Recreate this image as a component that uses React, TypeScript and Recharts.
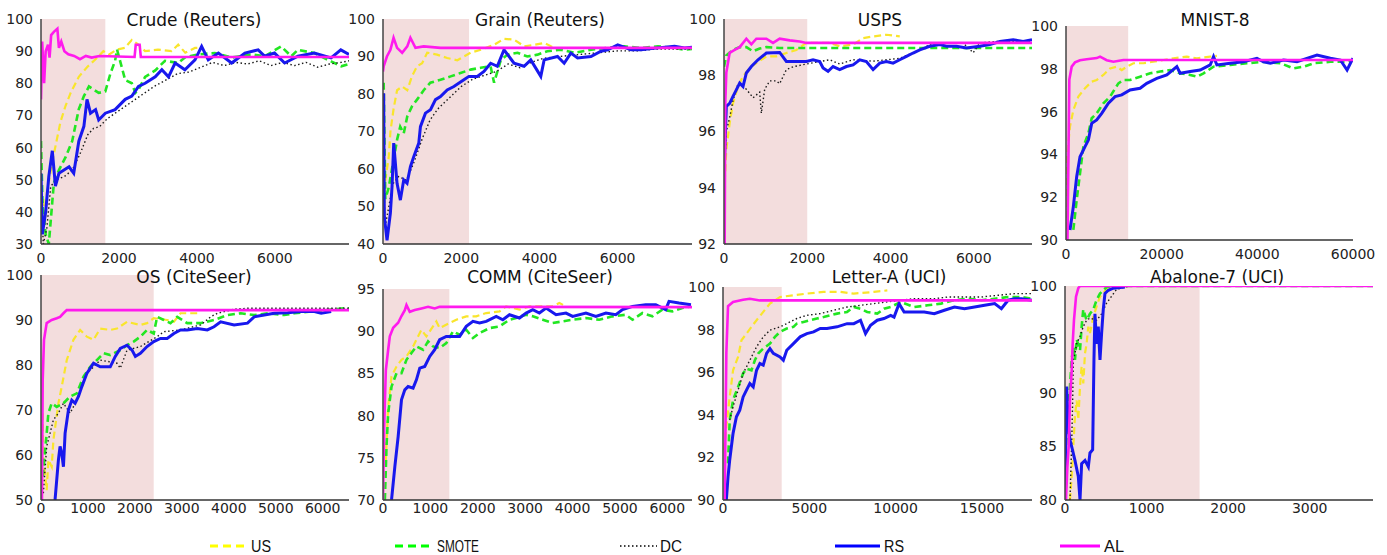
import { LineChart, Line, XAxis, YAxis, ReferenceArea } from "recharts";

type Pt = [number, number];

// Crude (Reuters)
const crudeUS: Pt[] = [[60,44],[100,36],[150,46],[330,58],[500,68],[630,73],[760,77],[970,82],[1180,85],[1400,87.5],[1600,90],[1750,89],[1950,90.5],[2150,91],[2330,93.5],[2500,92],[2670,90],[3000,90.5],[3350,90],[3520,92],[3700,89.5],[3950,91],[4050,91]];
const crudeSMOTE: Pt[] = [[0,62],[40,42],[120,33],[200,30],[330,49],[460,53],[630,57],[800,62],[970,72],[1100,76],[1230,79],[1480,77],[1650,77.5],[1780,83],[1900,87],[1950,90.5],[2160,81],[2330,80],[2420,77],[2500,78],[2670,82],[2930,84],[3180,87],[3520,86.3],[3690,88],[4030,89],[4460,89.4],[4890,88],[5400,89],[5740,88.4],[6160,91.5],[6420,88.4],[6590,90.4],[7010,89.4],[7440,86.8],[7700,85.3],[7900,86]];
const crudeDC: Pt[] = [[0,45],[60,30],[150,35],[250,48],[400,50],[600,51],[800,53],[1000,58],[1200,64],[1350,66],[1500,66.5],[1700,69],[2000,71.5],[2300,74],[2600,76.5],[2900,79],[3200,81],[3500,83],[3800,83.5],[4100,85],[4400,86.5],[4700,85.5],[5000,86.5],[5300,86],[5600,87],[5900,85.5],[6200,86.5],[6500,85.5],[6800,86.5],[7100,85],[7400,86],[7700,86.5],[7900,87]];
const crudeRS: Pt[] = [[0,52],[34,33],[120,40],[200,51],[290,59],[370,48],[460,52],[590,53],[720,54],[840,52],[970,62],[1100,66.6],[1180,75],[1270,70.7],[1400,71.8],[1480,68.6],[1650,70.7],[1900,71.8],[2160,75],[2330,76],[2500,79],[2670,80],[2930,82],[3100,84.2],[3270,82],[3440,86.3],[3690,84.2],[3950,87.3],[4120,91.5],[4290,87.3],[4550,89.4],[4890,86.3],[5230,89.4],[5570,90.4],[5740,88.4],[5990,89.4],[6250,86.3],[6590,88.4],[7010,89.4],[7440,87.9],[7690,90.4],[7900,89]];
const crudeAL: Pt[] = [[0,75],[30,93],[80,80],[120,90],[180,92],[220,88],[260,95],[330,96],[420,97],[460,91],[520,93],[600,90],[700,89],[850,88.5],[1000,87.5],[1150,88.5],[1300,88],[1500,88.5],[2400,88.2],[2430,92],[2530,92],[2560,88.2],[7900,88.2]];

// Grain (Reuters)
const grainUS: Pt[] = [[30,48],[60,57],[145,63],[190,70],[270,76],[360,81],[490,82],[620,81],[740,84.7],[870,87.4],[1000,88.2],[1130,91],[1380,90.5],[1640,89.6],[1900,89],[2240,91],[2500,91.8],[2840,93.1],[3090,94.7],[3350,94.5],[3610,92.7],[3860,93.1],[4120,93.6],[4380,92.3]];
const grainSMOTE: Pt[] = [[17,83],[60,52],[145,55],[270,62.4],[360,67.8],[440,71.3],[530,69.5],[620,74],[740,76.7],[870,78.5],[1040,81],[1210,83],[1470,83.8],[1730,84.7],[1980,85.6],[2240,86.5],[2500,87],[2750,87.4],[2840,83],[3010,89],[3180,90.5],[3440,91],[3690,90],[3950,90.5],[4200,91.4],[4550,91.8],[4890,91],[5320,91.8],[5740,92.3],[6170,92.7],[6600,92.3],[7030,92.7],[7450,92.3],[7710,91.8],[7900,92]];
const grainDC: Pt[] = [[10,55],[60,45],[150,50],[250,56],[400,58],[600,57],[800,62],[1000,68],[1200,73],[1400,76],[1700,79],[2000,82],[2300,84],[2600,85],[2900,86],[3200,88],[3500,87],[3800,88.5],[4100,89.5],[4500,90],[5000,90.5],[5500,91],[6000,91.5],[6500,91.5],[7000,92],[7900,92]];
const grainRS: Pt[] = [[17,80.2],[34,47.3],[103,41],[188,48.2],[231,55.3],[274,66.9],[359,56.2],[444,51.7],[530,57.1],[615,56.2],[701,60.6],[786,63.3],[915,66.9],[957,71.3],[1085,74.9],[1214,75.8],[1342,78.5],[1470,79.3],[1641,81.1],[1812,82],[2068,83.8],[2197,84.7],[2410,84.7],[2581,86],[2752,88.2],[2923,87.4],[3094,91.8],[3350,88.2],[3607,87.4],[3778,89.1],[4034,84.7],[4120,89.1],[4462,90],[4632,88.2],[4803,90.9],[4974,89.6],[5316,90],[5573,91.4],[5744,91.8],[6000,93.1],[6342,91.8],[6598,91.8],[7026,92.3],[7453,92.7],[7709,92.3],[7900,92.5]];
const grainAL: Pt[] = [[0,86],[17,87.4],[100,90],[190,91.8],[270,95],[360,92.3],[490,91],[620,92.7],[700,95],[830,92.3],[1040,92.7],[1470,92.3],[7900,92.3]];

// USPS
const uspsUS: Pt[] = [[16,94.2],[56,95.35],[136,96.3],[216,97],[337,97.6],[457,97.96],[617,98.26],[777,98.43],[1018,98.67],[1258,98.67],[1498,98.79],[1739,98.9],[1979,99.15],[2300,99.15],[2540,99.15],[2780,99.03],[3101,99.09],[3341,99.32],[3582,99.38],[3902,99.44],[4223,99.38]];
const uspsSMOTE: Pt[] = [[0,98.3],[56,98.7],[216,98.9],[377,99],[537,99],[697,98.85],[857,98.95],[1018,99],[1338,98.97],[7400,98.97]];
const uspsDC: Pt[] = [[16,94.8],[56,96],[136,96.5],[216,97.1],[337,97.7],[457,97.6],[537,97.5],[700,97.2],[857,97.4],[897,96.65],[978,97.5],[1098,97.8],[1258,97.8],[1338,97.7],[1498,98.2],[1659,98.3],[1979,98.4],[2540,98.55],[2780,98.4],[3101,98.55],[3582,98.5],[3902,98.55],[4223,98.6],[4704,98.9],[5024,99.15],[5345,99.15],[5745,99.15],[5986,98.8],[6146,99.15],[6546,99.2],[6947,99.2],[7400,99.2]];
const uspsRS: Pt[] = [[0,94.5],[56,96.89],[136,97],[216,97.25],[296,97.48],[377,97.72],[457,97.6],[537,98.08],[657,98.31],[817,98.55],[1018,98.79],[1338,98.81],[1498,98.49],[1979,98.49],[2139,98.55],[2300,98.49],[2380,98.26],[2500,98.14],[2620,98.31],[2780,98.2],[2941,98.31],[3101,98.37],[3261,98.55],[3421,98.49],[3582,98.2],[3742,98.43],[3902,98.49],[4062,98.43],[4223,98.55],[4383,98.67],[4543,98.79],[4704,98.9],[4944,99.03],[5184,99.09],[5345,99.03],[5585,99.03],[5825,98.97],[6146,99.03],[6386,99.09],[6627,99.2],[6947,99.26],[7188,99.2],[7400,99.26]];
const uspsAL: Pt[] = [[0,92],[16,92],[32,97.1],[56,98.1],[136,98.8],[256,98.9],[377,99],[537,99.3],[657,99.1],[777,99.3],[1018,99.3],[1178,99.15],[1338,99.3],[1579,99.24],[1819,99.2],[1979,99.15],[7400,99.15]];

// MNIST-8
const mnistUS: Pt[] = [[60,90],[140,93.74],[488,94.52],[837,95.3],[1535,96.07],[2582,96.7],[3978,97.09],[5373,97.4],[6420,97.48],[7816,97.71],[9211,98.02],[10607,98.1],[11654,97.94],[12700,98.1],[14096,98.26],[16190,98.26],[18283,98.33],[20377,98.41],[22470,98.49],[25262,98.57],[27355,98.49],[30147,98.57],[31542,98.6]];
const mnistSMOTE: Pt[] = [[1535,90.47],[2233,91.87],[2931,93.12],[3629,94.36],[4676,94.98],[5373,95.69],[6420,95.92],[7816,96.39],[9211,96.7],[10956,97.32],[12003,97.48],[13398,97.48],[15492,97.63],[17585,97.79],[19679,97.87],[21773,97.94],[23866,97.79],[25960,97.71],[27355,97.63],[28751,97.79],[30845,98.1],[34334,98.18],[37823,98.26],[41312,98.33],[44801,98.26],[47593,98.02],[49686,98.1],[51780,98.26],[55269,98.33],[58758,98.33],[60000,98.41]];
const mnistRS: Pt[] = [[837,90.47],[1535,91.56],[2233,92.96],[2931,93.89],[3978,94.36],[4676,94.67],[5373,95.45],[6420,95.61],[7467,95.92],[8863,96.39],[10258,96.7],[11654,96.78],[13398,97.01],[15492,97.09],[16888,97.32],[18981,97.55],[21075,97.71],[23168,98.1],[23866,97.79],[25960,97.87],[28053,97.94],[30147,98.18],[30845,98.57],[31542,98.18],[34334,98.26],[37125,98.33],[39916,98.49],[41312,98.33],[42708,98.26],[45499,98.41],[48290,98.33],[52477,98.64],[55269,98.49],[57362,98.41],[58758,97.94],[59456,98.26],[60000,98.49]];
const mnistAL: Pt[] = [[280,89.5],[700,97.5],[1190,98.1],[1880,98.3],[2930,98.4],[4330,98.45],[6420,98.5],[7120,98.57],[8510,98.4],[9910,98.33],[12000,98.41],[60000,98.41]];

// OS (CiteSeer)
const osUS: Pt[] = [[36,69.3],[50,58.9],[121,52.2],[157,58.9],[228,57.4],[264,63.3],[371,71.5],[442,75.2],[549,81.1],[691,85.6],[834,87.8],[976,86.3],[1119,85.6],[1262,88.1],[1475,87.8],[1618,88.1],[1832,89.6],[2117,88.9],[2259,89.3],[2402,90.4],[2687,90],[2830,89.6],[2972,91.5],[3115,91.5],[3400,91.5]];
const osSMOTE: Pt[] = [[36,55.2],[121,64.8],[157,69.3],[228,71.5],[335,70.7],[478,71.5],[620,73],[763,73.7],[905,77.4],[1048,79.6],[1190,81.1],[1333,82.6],[1475,82.2],[1689,83.3],[1832,84.4],[1974,85.2],[2117,86.3],[2259,87.8],[2402,87],[2473,90.7],[2616,90],[2758,89.3],[2901,90.7],[3115,89.3],[3400,89.3],[3685,90],[3970,91.1],[4255,91.5],[4540,91.1],[4825,91.5],[5182,91.1],[5396,91.5],[6251,92.4],[6465,92.6],[6560,92.6]];
const osDC: Pt[] = [[50,51.5],[121,61.9],[192,64.8],[264,67.8],[371,69.3],[478,71.5],[620,69.3],[763,72.2],[976,78.1],[1262,81.1],[1618,80.4],[1689,79.3],[1832,83.3],[2117,84.1],[2473,86.3],[2616,87.4],[2972,87.8],[3400,88.9],[3614,90.7],[3756,91.5],[4113,92.4],[4398,92.6],[6560,92.6]];
const osRS: Pt[] = [[299,50],[371,58.9],[406,61.9],[442,60.4],[478,57.4],[513,64.8],[584,70],[656,72.2],[727,71.5],[798,73],[870,75.2],[976,78.1],[1119,80.4],[1262,79.6],[1475,79.6],[1582,81.9],[1689,83.7],[1832,84.4],[1939,83.3],[2010,81.9],[2117,82.6],[2259,84.1],[2402,85.2],[2545,85.9],[2687,85.9],[2830,87],[2972,87.8],[3115,87.8],[3329,88.1],[3542,87.8],[3685,88.5],[3827,89.6],[4113,88.9],[4398,89.3],[4540,90.7],[4754,91.1],[4968,91.5],[5253,91.6],[5538,91.9],[5823,91.9],[5966,91.5],[6180,91.9]];
const osAL: Pt[] = [[20,50],[36,76.7],[64,85.6],[121,89.3],[228,90],[335,90.4],[406,90.7],[478,91.5],[549,92.2],[6560,92.2]];

// COMM (CiteSeer)
const commUS: Pt[] = [[60,74.75],[109,81.08],[180,84.64],[285,85.82],[390,86.61],[495,87.01],[635,88.2],[810,90.17],[916,89.38],[986,89.97],[1126,91.16],[1196,90.37],[1407,90.97],[1547,91.36],[1757,91.76],[1968,91.76],[2178,92.15],[2459,92.35],[2599,92.94],[2739,92.75],[2879,92.55],[3090,92.94],[3300,92.94],[3581,92.94],[3721,93.34],[3861,92.94]];
const commSMOTE: Pt[] = [[39,70],[74,76.33],[109,80.28],[180,83.45],[285,85.03],[390,85.03],[495,86.61],[600,87.41],[705,88.2],[846,87.8],[951,88.79],[1056,88.2],[1196,88],[1336,88.59],[1477,89.98],[1617,89.58],[1757,90.17],[1898,89.19],[2038,89.78],[2248,90.37],[2459,90.57],[2669,91.36],[2809,91.56],[3020,91.95],[3160,91.76],[3371,91.36],[3581,90.97],[3791,91.16],[4002,91.36],[4282,91.56],[4563,91.36],[4843,91.76],[5124,91.95],[5264,91.36],[5474,92.15],[5685,91.76],[5895,92.55],[6106,92.35],[6316,92.75],[6498,92.94]];
const commRS: Pt[] = [[180,70],[250,73.96],[320,77.52],[390,81.87],[460,83.05],[530,83.45],[635,83.25],[705,84.24],[776,85.63],[881,85.82],[986,87.01],[1091,87.8],[1196,88.99],[1336,89.38],[1512,89.38],[1617,89.38],[1757,90.57],[1898,91.16],[2038,90.97],[2178,91.16],[2389,91.76],[2529,91.36],[2669,91.95],[2879,91.56],[3020,92.15],[3160,92.55],[3300,92.15],[3441,92.75],[3651,91.95],[3861,92.15],[4002,91.76],[4282,92.15],[4492,91.76],[4703,92.15],[4913,91.95],[5054,92.55],[5264,92.94],[5544,93.14],[5755,93.14],[5965,92.55],[6035,93.54],[6246,93.34],[6498,93.14]];
const commAL: Pt[] = [[0,70],[25,78.7],[60,85.4],[109,87.8],[144,89.4],[215,90.4],[320,91],[390,91.8],[460,92.5],[495,93.1],[565,92.3],[670,92.5],[811,92.7],[951,92.9],[1091,92.7],[1196,92.9],[6520,92.85]];

// Letter-A (UCI)
const letterUS: Pt[] = [[58,92.34],[194,93.44],[389,94.84],[583,96.09],[874,96.72],[1069,97.5],[1360,97.81],[1651,98.13],[1943,98.44],[2331,98.83],[2720,99.22],[3303,99.53],[4080,99.61],[4857,99.69],[5829,99.77],[6800,99.77],[7577,99.69],[8743,99.77],[9520,99.84]];
const letterSMOTE: Pt[] = [[291,91.72],[389,93.75],[583,94.69],[874,95.31],[1166,95.94],[1360,96.17],[1651,96.09],[1846,96.56],[2040,96.88],[2331,97.11],[2720,97.34],[3011,97.66],[3303,97.89],[3692,98.05],[4080,98.13],[4274,98.28],[4663,98.36],[5051,98.44],[5440,98.52],[5829,98.59],[6217,98.67],[6606,98.75],[7189,98.83],[7577,99.06],[7966,98.98],[8354,98.83],[8937,98.75],[9326,98.98],[9714,99.06],[10297,99.3],[11074,99.06],[11852,99.14],[12629,99.22],[13406,99.38],[14183,99.45],[14960,99.38],[15737,99.45],[16515,99.53],[17292,99.53],[17900,99.45]];
const letterDC: Pt[] = [[389,93.75],[583,94.38],[874,95.16],[1166,95.94],[1554,96.56],[1943,97.19],[2331,97.66],[2720,97.97],[3303,98.13],[3692,98.28],[4274,98.52],[4857,98.67],[5634,98.75],[6412,98.91],[7189,99.06],[7966,99.14],[8743,99.22],[9520,99.3],[10297,99.38],[11074,99.45],[12240,99.45],[13017,99.53],[13989,99.53],[14960,99.53],[15931,99.61],[16903,99.69],[17900,99.69]];
const letterRS: Pt[] = [[194,90],[291,91.09],[389,91.88],[583,93.13],[777,93.91],[971,94.22],[1166,94.84],[1360,95.16],[1554,95.47],[1749,95.31],[1943,96.09],[2137,96.41],[2331,96.33],[2526,96.88],[2720,97.11],[2914,96.88],[3303,96.72],[3497,96.56],[3692,97.03],[4080,97.34],[4469,97.66],[4857,97.81],[5246,97.89],[5634,98.05],[6023,98.05],[6606,98.13],[7189,98.28],[7577,98.28],[7966,98.44],[8257,97.81],[8549,98.2],[8937,98.44],[9326,98.52],[9714,98.67],[9909,98.59],[10200,99.22],[10492,98.83],[11074,98.83],[11657,98.83],[12240,98.75],[12823,98.91],[13406,99.06],[13989,98.98],[14572,99.06],[15154,99.14],[15737,99.22],[16126,98.98],[16515,99.38],[16903,99.45],[17292,99.45],[17900,99.38]];
const letterAL: Pt[] = [[97,90],[194,96.9],[291,99.1],[583,99.3],[1166,99.4],[1554,99.45],[2137,99.37],[17900,99.37]];

// Abalone-7 (UCI)
const abaloneUS: Pt[] = [[61,80],[82,82.2],[102,85],[122,87.8],[143,89.3],[163,87.5],[184,90.6],[204,92.5],[224,90.9],[245,93.7],[265,94.6],[286,96.2],[306,95.6],[347,97.1],[388,98.1],[429,99],[469,99.3],[510,99.8],[592,99.9],[714,100]];
const abaloneSMOTE: Pt[] = [[0,80],[12,85],[41,88.7],[61,90.6],[82,93.1],[102,94.3],[122,93.1],[143,95],[184,94],[204,96.2],[224,97.8],[265,96.8],[306,97.4],[347,97.8],[388,98.7],[429,99.3],[469,99.6],[510,99.9],[592,100],[3776,100]];
const abaloneDC: Pt[] = [[61,80],[82,85.3],[94,89.3],[102,93.1],[122,93.7],[143,94.6],[184,95.3],[224,96.2],[265,96.8],[306,97],[388,96.8],[449,97.4],[510,98.4],[633,99.7],[796,100]];
const abaloneRS: Pt[] = [[0,80],[20,90.6],[41,86.9],[61,85.6],[82,85],[122,83.7],[163,82.2],[184,80],[204,83.4],[245,83.7],[286,83.1],[306,84.4],[339,84.7],[355,93.1],[367,97.4],[388,94.6],[408,96.2],[429,93.1],[449,95.6],[469,97.8],[490,99.3],[531,99.6],[592,99.8],[735,99.9]];
const abaloneAL: Pt[] = [[12,80],[29,83.1],[45,85],[61,89.3],[82,92.1],[94,94.6],[110,96.8],[135,99],[163,99.8],[184,100],[3776,100]];

const range = (a: number, b: number, s: number) => {
  const out: number[] = [];
  for (let v = a; v <= b; v += s) out.push(v);
  return out;
};

const SERIES = [
  { key: "us", color: "#f9e52c", width: 2.2, dash: "7 4" },
  { key: "smote", color: "#22e622", width: 2.6, dash: "7 4" },
  { key: "dc", color: "#1a1a1a", width: 1.4, dash: "1.5 2.5" },
  { key: "rs", color: "#1818ee", width: 3 },
  { key: "al", color: "#ff1aee", width: 2.6 },
] as const;

type Key = (typeof SERIES)[number]["key"];

interface Panel {
  title: string;
  x: number;
  y: number;
  w: number;
  h: number;
  tx: number;
  ty: number;
  xMax: number;
  xTicks: number[];
  yMin: number;
  yMax: number;
  yTicks: number[];
  shade: number;
  gap: number;
  lines: Partial<Record<Key, Pt[]>>;
}

const panels: Panel[] = [
  { title: "Crude (Reuters)", x: 41, y: 19, w: 308, h: 225, tx: 194, ty: 20, xMax: 7900, xTicks: [0, 2000, 4000, 6000], yMin: 30, yMax: 100, yTicks: range(30, 100, 10), shade: 1650, gap: 9, lines: { us: crudeUS, smote: crudeSMOTE, dc: crudeDC, rs: crudeRS, al: crudeAL } },
  { title: "Grain (Reuters)", x: 383, y: 19, w: 309, h: 225, tx: 540, ty: 20, xMax: 7900, xTicks: [0, 2000, 4000, 6000], yMin: 40, yMax: 100, yTicks: range(40, 100, 10), shade: 2200, gap: 9, lines: { us: grainUS, smote: grainSMOTE, dc: grainDC, rs: grainRS, al: grainAL } },
  { title: "USPS", x: 724, y: 19, w: 308, h: 225, tx: 880, ty: 20, xMax: 7400, xTicks: [0, 2000, 4000, 6000], yMin: 92, yMax: 100, yTicks: [92, 94, 96, 98, 100], shade: 2000, gap: 9, lines: { us: uspsUS, smote: uspsSMOTE, dc: uspsDC, rs: uspsRS, al: uspsAL } },
  { title: "MNIST-8", x: 1066, y: 26, w: 287, h: 214, tx: 1215, ty: 20, xMax: 60000, xTicks: [0, 20000, 40000, 60000], yMin: 90, yMax: 100, yTicks: range(90, 100, 2), shade: 13000, gap: 9, lines: { us: mnistUS, smote: mnistSMOTE, rs: mnistRS, al: mnistAL } },
  { title: "OS (CiteSeer)", x: 41, y: 275, w: 308, h: 225, tx: 194, ty: 277, xMax: 6560, xTicks: range(0, 6000, 1000), yMin: 50, yMax: 100, yTicks: range(50, 100, 10), shade: 2400, gap: 3, lines: { us: osUS, smote: osSMOTE, dc: osDC, rs: osRS, al: osAL } },
  { title: "COMM (CiteSeer)", x: 383, y: 289, w: 309, h: 211, tx: 540, ty: 277, xMax: 6520, xTicks: range(0, 6000, 1000), yMin: 70, yMax: 95, yTicks: range(70, 95, 5), shade: 1400, gap: 3, lines: { us: commUS, smote: commSMOTE, rs: commRS, al: commAL } },
  { title: "Letter-A (UCI)", x: 723, y: 287, w: 309, h: 213, tx: 889, ty: 277, xMax: 17900, xTicks: [0, 5000, 10000, 15000], yMin: 90, yMax: 100, yTicks: range(90, 100, 2), shade: 3400, gap: 3, lines: { us: letterUS, smote: letterSMOTE, dc: letterDC, rs: letterRS, al: letterAL } },
  { title: "Abalone-7 (UCI)", x: 1065, y: 286, w: 308, h: 214, tx: 1217, ty: 277, xMax: 3776, xTicks: [0, 1000, 2000, 3000], yMin: 80, yMax: 100, yTicks: range(80, 100, 5), shade: 1650, gap: 3, lines: { us: abaloneUS, smote: abaloneSMOTE, dc: abaloneDC, rs: abaloneRS, al: abaloneAL } },
];

const tickStyle = { fontSize: 14, fill: "#222", fontFamily: "DejaVu Sans, Verdana, sans-serif" };

// extra room on the right so the last x tick label is not clipped
const RIGHT = 30;

function SmallChart({ p }: { p: Panel }) {
  return (
    <div style={{ position: "absolute", left: p.x - 40, top: p.y - 20 }}>
      <LineChart width={p.w + 40 + RIGHT} height={p.h + 50} margin={{ top: 20, right: RIGHT, bottom: 0, left: 0 }}>
        <XAxis
          type="number"
          dataKey="x"
          domain={[0, p.xMax]}
          ticks={p.xTicks}
          allowDataOverflow
          height={30}
          tickLine={false}
          tickSize={0}
          tickMargin={p.gap}
          tick={tickStyle}
          stroke="#333"
          strokeWidth={1.3}
        />
        <YAxis
          type="number"
          domain={[p.yMin, p.yMax]}
          ticks={p.yTicks}
          allowDataOverflow
          width={40}
          tickLine={false}
          tickSize={0}
          tickMargin={8}
          tick={tickStyle}
          stroke="#444"
          strokeWidth={1.5}
        />
        <ReferenceArea x1={0} x2={p.shade} y1={p.yMin} y2={p.yMax} fill="#f3dddd" fillOpacity={1} stroke="none" />
        {SERIES.map((s) => {
          const pts = p.lines[s.key];
          if (!pts) return null;
          return (
            <Line
              key={s.key}
              data={pts.map(([x, y]) => ({ x, y }))}
              dataKey="y"
              type="linear"
              stroke={s.color}
              strokeWidth={s.width}
              strokeDasharray={"dash" in s ? s.dash : undefined}
              dot={false}
              activeDot={false}
              isAnimationActive={false}
            />
          );
        })}
      </LineChart>
      <div
        style={{
          position: "absolute",
          left: p.tx - (p.x - 40),
          top: p.ty - (p.y - 20),
          transform: "translate(-50%, -50%)",
          fontFamily: "DejaVu Sans, Verdana, sans-serif",
          fontSize: 17,
          color: "#111",
          whiteSpace: "nowrap",
        }}
      >
        {p.title}
      </div>
    </div>
  );
}

const legendItems = [
  { label: "US", color: "#ffff00", x1: 210, x2: 247, tx: 251, tw: 20, width: 3, dash: "8 5" },
  { label: "SMOTE", color: "#00ff00", x1: 395, x2: 433, tx: 437, tw: 42, width: 3, dash: "8 5" },
  { label: "DC", color: "#000", x1: 620, x2: 657, tx: 660, tw: 22, width: 1.3, dash: "1.5 2.5" },
  { label: "RS", color: "#0000ff", x1: 835, x2: 880, tx: 884, tw: 20, width: 3 },
  { label: "AL", color: "#ff00ff", x1: 1060, x2: 1100, tx: 1104, tw: 20, width: 3 },
];

export default function App() {
  return (
    <div style={{ position: "absolute", left: 0, top: 0, width: 1387, height: 555, background: "#fff", overflow: "hidden" }}>
      {panels.map((p) => (
        <SmallChart key={p.title} p={p} />
      ))}
      <svg width={1387} height={30} style={{ position: "absolute", left: 0, top: 530 }}>
        {legendItems.map((it) => (
          <g key={it.label}>
            <line x1={it.x1} x2={it.x2} y1={16} y2={16} stroke={it.color} strokeWidth={it.width} strokeDasharray={it.dash} />
            <text
              x={it.tx}
              y={22}
              fontSize={16}
              fontFamily="Liberation Sans Narrow, Arial Narrow, Liberation Sans, sans-serif"
              textLength={it.tw}
              lengthAdjust="spacingAndGlyphs"
              fill="#111"
            >
              {it.label}
            </text>
          </g>
        ))}
      </svg>
    </div>
  );
}
